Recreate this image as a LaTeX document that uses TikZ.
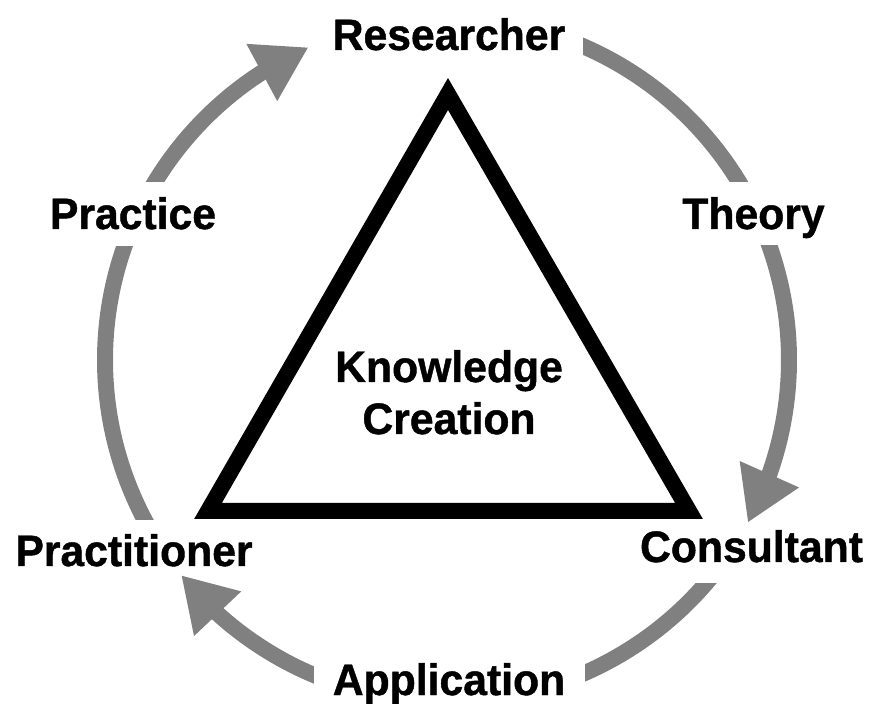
\documentclass[tikz,border=0pt]{standalone}
\usepackage{fontspec}
\newfontfamily\labfont{Liberation Sans Bold}[FakeStretch=0.97, FakeBold=1]
\usetikzlibrary{arrows.meta,bending}
\definecolor{arcgray}{RGB}{128,128,128}
\tikzset{
  flow/.style={draw=arcgray, line width=16pt,
    -{Triangle[length=53pt,width=61pt,flex]}, arcgray},
  lab/.style={fill=white, font=\labfont\fontsize{44}{52}\selectfont,
    anchor=base, inner ysep=0pt, inner xsep=10pt},
  tri/.style={draw=black, line width=16pt, miter limit=10, line join=miter},
}
\begin{document}
\begin{tikzpicture}[x=1pt,y=1pt]
\useasboundingbox (0,0) rectangle (870,704);
\coordinate (C) at (447,344);
% arc end points on the circle
\coordinate (lstart) at ([shift={(215:342)}]C);
\coordinate (rstart) at ([shift={(70:342)}]C);
\coordinate (bstart) at ([shift={(-36:342)}]C);
% arcs
\draw[flow] (lstart) arc[start angle=215, end angle=113.9, radius=342];
\draw[flow] (rstart) arc[start angle=70, end angle=-28.4, radius=342];
\draw[flow] (bstart) arc[start angle=-36, end angle=-141, radius=342];
% labels (white boxes break the arcs)
\node[lab, minimum width=268pt, inner xsep=0pt, text height=45pt, text depth=10pt] (res) at (449,654) {Researcher};
\node[lab, text height=47pt, text depth=17pt] (prac) at (133,475) {Practice};
\node[lab, text height=47pt, text depth=16pt] (theo) at (753.5,475) {Theory};
\node[lab, text height=46pt, text depth=7pt] (pract) at (134,138) {Practitioner};
\node[lab, inner xsep=4pt, text height=34pt, text depth=21pt] (cons) at (751.5,142) {Consultant};
\node[lab, minimum width=271pt, inner xsep=0pt, text height=58pt, text depth=9pt] (app) at (449,9) {Application};
% triangle
\coordinate (ta) at (448,610);
\coordinate (tl) at (208,193);
\coordinate (tr) at (689,193);
\draw[tri] (ta) -- (tl) -- (tr) -- cycle;
\node[lab, fill=none] (kn) at (449,322) {Knowledge};
\node[lab, fill=none] (cr) at (449,270) {Creation};
\end{tikzpicture}
\end{document}
